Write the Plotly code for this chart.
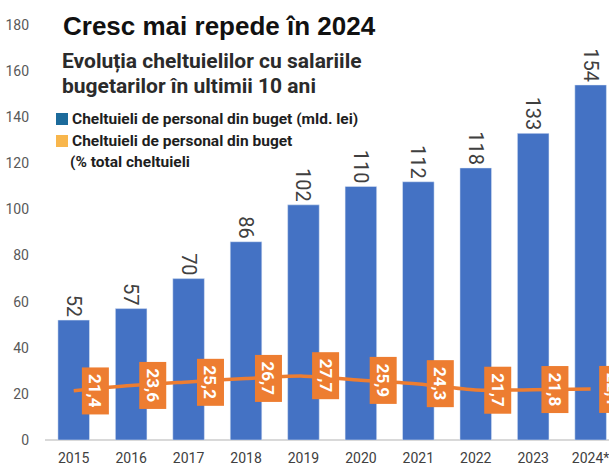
import plotly.graph_objects as go

years = ["2015", "2016", "2017", "2018", "2019", "2020", "2021", "2022", "2023", "2024*"]
spend_bn = [52, 57, 70, 86, 102, 110, 112, 118, 133, 154]
spend_pct = [21.4, 23.6, 25.2, 26.7, 27.7, 25.9, 24.3, 21.7, 21.8, 22.1]
y_ticks = [0, 20, 40, 60, 80, 100, 120, 140, 160, 180]

title = "Cresc mai repede în 2024"
subtitle1 = "Evoluția cheltuielilor cu salariile"
subtitle2 = "bugetarilor în ultimii 10 ani"
legend1 = "Cheltuieli de personal din buget (mld. lei)"
legend2 = "Cheltuieli de personal din buget"
legend3 = "(% total cheltuieli"

FONT = "Roboto, Liberation Sans, sans-serif"
BLUE = "#4472C4"
ORANGE = "#ED7D31"
LEG_BLUE = "#1C6B9B"
LEG_ORANGE = "#F8B64C"

# plot area geometry in pixels (used only to place the text decorations)
L, R, T, B = 45, 609, 25, 440


def px_x(px):
    return (px - L) / (R - L)


def px_y(py):
    return (B - py) / (B - T)


xpos = list(range(len(years)))

fig = go.Figure()
fig.add_trace(go.Bar(
    x=xpos, y=spend_bn, marker_color=BLUE, width=0.55,
    text=[str(v) for v in spend_bn], textposition="outside", textangle=90,
    textfont=dict(family=FONT, size=20, color="#404040"),
    constraintext="none", cliponaxis=False, showlegend=False,
))
fig.add_trace(go.Scatter(
    x=xpos, y=spend_pct, mode="lines",
    line=dict(color=ORANGE, width=3.5, shape="spline", smoothing=0.8),
    showlegend=False, cliponaxis=False,
))

annotations = []
for x, v in zip(xpos, spend_pct):
    annotations.append(dict(
        x=x, y=v, xref="x", yref="y", xshift=22,
        text="<b>" + f"{v:.1f}".replace(".", ",") + "</b>",
        textangle=90, showarrow=False, bgcolor=ORANGE,
        width=44, height=24, align="center", valign="middle",
        font=dict(family=FONT, size=17, color="white"),
    ))

annotations.append(dict(
    x=px_x(61), y=px_y(26), xref="paper", yref="paper",
    xanchor="left", yanchor="middle", showarrow=False,
    text="<b>" + title + "</b>",
    font=dict(family="Liberation Sans, Arial, sans-serif", size=26, color="#111111"),
))
annotations.append(dict(
    x=px_x(60), y=px_y(61), xref="paper", yref="paper",
    xanchor="left", yanchor="middle", showarrow=False, align="left",
    text="<b>" + subtitle1 + "</b>",
    font=dict(family=FONT, size=21, color="#2b2b2b"),
))
annotations.append(dict(
    x=px_x(60), y=px_y(86), xref="paper", yref="paper",
    xanchor="left", yanchor="middle", showarrow=False, align="left",
    text="<b>" + subtitle2 + "</b>",
    font=dict(family=FONT, size=21, color="#2b2b2b"),
))
for txt, cy, cx in [(legend1, 119, 70), (legend2, 141, 70), (legend3, 162, 68)]:
    annotations.append(dict(
        x=px_x(cx), y=px_y(cy), xref="paper", yref="paper",
        xanchor="left", yanchor="middle", showarrow=False, align="left",
        text="<b>" + txt + "</b>",
        font=dict(family=FONT, size=15.5, color="#1e1e1e"),
    ))

shapes = [
    dict(type="rect", xref="paper", yref="paper",
         x0=px_x(56), x1=px_x(68), y0=px_y(125), y1=px_y(113),
         fillcolor=LEG_BLUE, line=dict(width=0)),
    dict(type="rect", xref="paper", yref="paper",
         x0=px_x(56), x1=px_x(68), y0=px_y(147), y1=px_y(135),
         fillcolor=LEG_ORANGE, line=dict(width=0)),
]

fig.update_layout(
    width=609, height=467,
    margin=dict(l=L, r=609 - R, t=T, b=467 - B),
    plot_bgcolor="white", paper_bgcolor="white",
    showlegend=False,
    annotations=annotations,
    shapes=shapes,
    xaxis=dict(
        range=[-0.5, 9.32], tickmode="array", tickvals=xpos, ticktext=years,
        showgrid=False, zeroline=False, showline=False, ticks="",
        ticklabelstandoff=8, ticklabeloverflow="allow",
        tickfont=dict(family=FONT, size=14, color="#404040"),
        fixedrange=True, automargin=False,
    ),
    yaxis=dict(
        range=[0, 180], tickmode="array", tickvals=y_ticks,
        showgrid=False, zeroline=True, zerolinecolor="#d9d9d9", zerolinewidth=1.5,
        showline=False, ticks="", ticklabelstandoff=15,
        tickfont=dict(family=FONT, size=14, color="#595959"),
        fixedrange=True, automargin=False,
    ),
)

fig.write_html(
    "out.html",
    config={"displayModeBar": False},
    post_script="document.body.style.margin='0';document.body.style.padding='0';",
)
